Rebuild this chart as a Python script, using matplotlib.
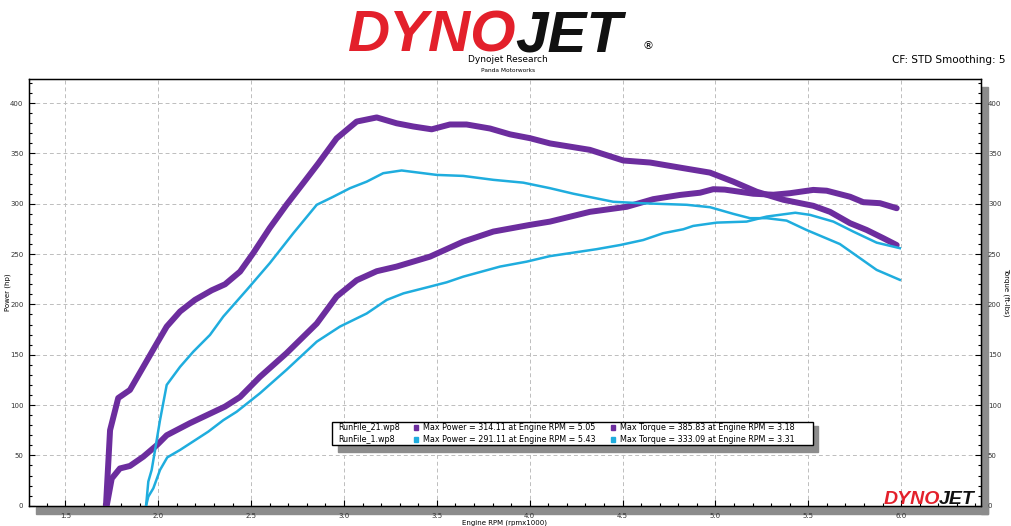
import matplotlib.pyplot as plt
from matplotlib.patches import Rectangle
from matplotlib.ticker import MultipleLocator

# RunFile_21 (morado)
rpm_t21 = [1.718, 1.74, 1.784, 1.847, 1.919, 1.991, 2.045, 2.117, 2.197, 2.287, 2.359, 2.44,
           2.511, 2.60, 2.69, 2.78, 2.861, 2.96, 3.068, 3.176, 3.283, 3.373, 3.472, 3.57,
           3.66, 3.786, 3.894, 4.001, 4.109, 4.324, 4.504, 4.648, 4.827, 4.97, 5.096, 5.222,
           5.365, 5.527, 5.617, 5.725, 5.814, 5.904, 5.976]
tq_21 = [0, 75, 107, 115, 138, 161, 178, 193, 204.5, 214, 220, 232.6,
         251, 276, 299, 320.5, 340, 365, 381.7, 385.8, 380, 376.8, 374, 378.8,
         378.8, 374.8, 369, 365.2, 360, 353.6, 343, 341, 335.4, 331, 322, 312,
         304, 298, 292, 280.7, 274, 265.8, 259]

rpm_p21 = [1.722, 1.749, 1.793, 1.847, 1.919, 1.991, 2.045, 2.17, 2.359, 2.44, 2.547, 2.69,
           2.853, 2.96, 3.068, 3.176, 3.283, 3.463, 3.642, 3.804, 4.0, 4.109, 4.324, 4.522,
           4.665, 4.809, 4.917, 4.988, 5.05, 5.204, 5.312, 5.401, 5.527, 5.599, 5.725, 5.796,
           5.886, 5.976]
hp_21 = [0, 27, 37, 39.5, 48.7, 60, 70, 82, 98.5, 108, 128, 151.5,
         181, 207.8, 224, 233, 237.6, 247.5, 262.4, 272.4, 279, 282.3, 292, 297,
         304.6, 308.8, 311, 314.5, 314.1, 310, 309, 310.5, 313.8, 313, 307, 301.6,
         300.6, 295.6]

# RunFile_1 (celeste)
rpm_t1 = [1.934, 1.946, 1.964, 1.982, 2.009, 2.045, 2.117, 2.188, 2.278, 2.35, 2.476, 2.60,
          2.727, 2.853, 2.942, 3.032, 3.122, 3.211, 3.31, 3.499, 3.642, 3.804, 3.965, 4.109,
          4.235, 4.45, 4.594, 4.845, 4.971, 5.096, 5.186, 5.276, 5.383, 5.49, 5.67, 5.778,
          5.868, 5.993]
tq_1 = [0, 24, 35.5, 55, 85, 120, 138, 153, 169.7, 188, 214.4, 241,
        270.8, 299, 307, 315.5, 322, 330.4, 333.1, 328.7, 327.7, 323.8, 321, 315.5,
        310, 302, 300.6, 299, 296.6, 290, 285.7, 285.7, 283.3, 274, 260, 246,
        234.3, 224.4]

rpm_p1 = [1.934, 1.946, 1.973, 2.009, 2.048, 2.117, 2.269, 2.35, 2.422, 2.547, 2.69, 2.853,
          2.978, 3.122, 3.23, 3.32, 3.463, 3.553, 3.642, 3.84, 3.983, 4.109, 4.36, 4.486,
          4.611, 4.719, 4.827, 4.88, 5.007, 5.168, 5.276, 5.43, 5.509, 5.635, 5.742, 5.868,
          5.993]
hp_1 = [0, 9, 17.3, 35.5, 48, 55.4, 73.6, 85, 93.4, 111.7, 135, 163,
        178, 191, 204.5, 211, 217.7, 222, 227.6, 237.6, 242.5, 248, 254.9, 259,
        264, 270.8, 274.7, 278, 281.3, 282.3, 287.3, 291.1, 289, 282.3, 272.4, 261.4,
        255.9]

runs = ['RunFile_21.wp8', 'RunFile_1.wp8']
max_txt = [('Max Power = 314.11 at Engine RPM = 5.05', 'Max Torque = 385.83 at Engine RPM = 3.18'),
           ('Max Power = 291.11 at Engine RPM = 5.43', 'Max Torque = 333.09 at Engine RPM = 3.31')]

morado = '#6c2d9e'
celeste = '#1fadde'
gris = '#8c8c8c'
logo_font = 'Liberation Sans'

fig = plt.figure(figsize=(10.12, 5.26), dpi=100)
W, H = 1012, 526

def fx(px):
    return px / W

def fy(py):
    return 1 - py / H

ax = fig.add_axes([fx(29), fy(505.7), fx(981) - fx(29), fy(79) - fy(505.7)])
ax.set_zorder(2)

# sombras grises del marco
fig.patches.append(Rectangle((fx(36), fy(513.5)), fx(988) - fx(36), fy(506.5) - fy(513.5),
                             transform=fig.transFigure, color=gris, zorder=1))
fig.patches.append(Rectangle((fx(981.5), fy(513.5)), fx(988) - fx(981.5), fy(87) - fy(513.5),
                             transform=fig.transFigure, color=gris, zorder=1))

ax.plot(rpm_t21, tq_21, color=morado, lw=4.3, solid_joinstyle='round', solid_capstyle='round', zorder=3)
ax.plot(rpm_p21, hp_21, color=morado, lw=4.3, solid_joinstyle='round', solid_capstyle='round', zorder=3)
ax.plot(rpm_t1, tq_1, color=celeste, lw=1.8, zorder=4)
ax.plot(rpm_p1, hp_1, color=celeste, lw=1.8, zorder=4)

ax.set_xlim(1.3035, 6.43)
ax.set_ylim(0, 424)
ax.xaxis.set_major_locator(MultipleLocator(0.5))
ax.xaxis.set_minor_locator(MultipleLocator(0.1))
ax.yaxis.set_major_locator(MultipleLocator(50))
ax.yaxis.set_minor_locator(MultipleLocator(10))
ax.xaxis.set_major_formatter(lambda v, p: f'{v:.1f}')
ax.grid(True, which='major', color='#bdbdbd', ls=(0, (4, 3)), lw=0.7)
ax.tick_params(which='both', direction='in', labelsize=5, colors='black', labelcolor='#333333',
               width=0.8)
ax.tick_params(which='major', length=4)
ax.tick_params(which='minor', length=2.5)
ax.tick_params(axis='x', pad=5.5)
ax.tick_params(axis='y', pad=4)
for s in ax.spines.values():
    s.set_linewidth(1.0)

ax2 = ax.twinx()
ax2.set_ylim(0, 424)
ax2.yaxis.set_major_locator(MultipleLocator(50))
ax2.yaxis.set_minor_locator(MultipleLocator(10))
ax2.tick_params(which='both', direction='in', labelsize=5, labelcolor='#333333', width=0.8, pad=5)
ax2.tick_params(which='major', length=4)
ax2.tick_params(which='minor', length=2.5)

fig.text(fx(8), fy(292), 'Power (hp)', rotation=90, ha='center', va='center', fontsize=5)
fig.text(fx(1006), fy(292), 'Torque (ft-lbs)', rotation=270, ha='center', va='center', fontsize=5)
fig.text(fx(505), fy(523), 'Engine RPM (rpmx1000)', ha='center', va='center', fontsize=5)

# cabecera
fig.text(fx(516), fy(51), 'DYNO', ha='right', va='baseline', fontsize=42, fontweight='bold',
         fontstyle='italic', family=logo_font, color='#e3202b')
fig.text(fx(515), fy(51), 'JET', ha='left', va='baseline', fontsize=42, fontweight='bold',
         fontstyle='italic', family=logo_font, color='#111111')
fig.text(fx(648), fy(46), '®', ha='center', va='center', fontsize=8)
fig.text(fx(508), fy(60), 'Dynojet Research', ha='center', va='center', fontsize=6.5)
fig.text(fx(508), fy(71), 'Panda Motorworks', ha='center', va='center', fontsize=4.2)
fig.text(fx(1006), fy(60), 'CF: STD Smoothing: 5', ha='right', va='center', fontsize=7.5)

# logo chico abajo
fig.text(fx(940), fy(504), 'DYNO', ha='right', va='baseline', fontsize=14, fontweight='bold',
         fontstyle='italic', family=logo_font, color='#e3202b', zorder=5)
fig.text(fx(939), fy(504), 'JET', ha='left', va='baseline', fontsize=14, fontweight='bold',
         fontstyle='italic', family=logo_font, color='#111111', zorder=5)

# cuadro de maximos
fig.patches.append(Rectangle((fx(338), fy(451.5)), fx(818) - fx(338), fy(426) - fy(451.5),
                             transform=fig.transFigure, color=gris, zorder=5))
fig.patches.append(Rectangle((fx(332), fy(445)), fx(813) - fx(332), fy(422) - fy(445),
                             transform=fig.transFigure, facecolor='white', edgecolor='black',
                             lw=1.0, zorder=6))
colores = [morado, celeste]
for i, run in enumerate(runs):
    yy = fy(427.5 + i * 11.5)
    fig.text(fx(338), yy, run, ha='left', va='center', fontsize=5.8, zorder=7)
    fig.patches.append(Rectangle((fx(414), yy - 2.5 / H), 4 / W, 5 / H,
                                 transform=fig.transFigure, color=colores[i], zorder=7))
    fig.text(fx(423), yy, max_txt[i][0], ha='left', va='center', fontsize=5.8, zorder=7)
    fig.patches.append(Rectangle((fx(611), yy - 2.5 / H), 4 / W, 5 / H,
                                 transform=fig.transFigure, color=colores[i], zorder=7))
    fig.text(fx(620), yy, max_txt[i][1], ha='left', va='center', fontsize=5.8, zorder=7)

fig.savefig('out.png', dpi=100)
